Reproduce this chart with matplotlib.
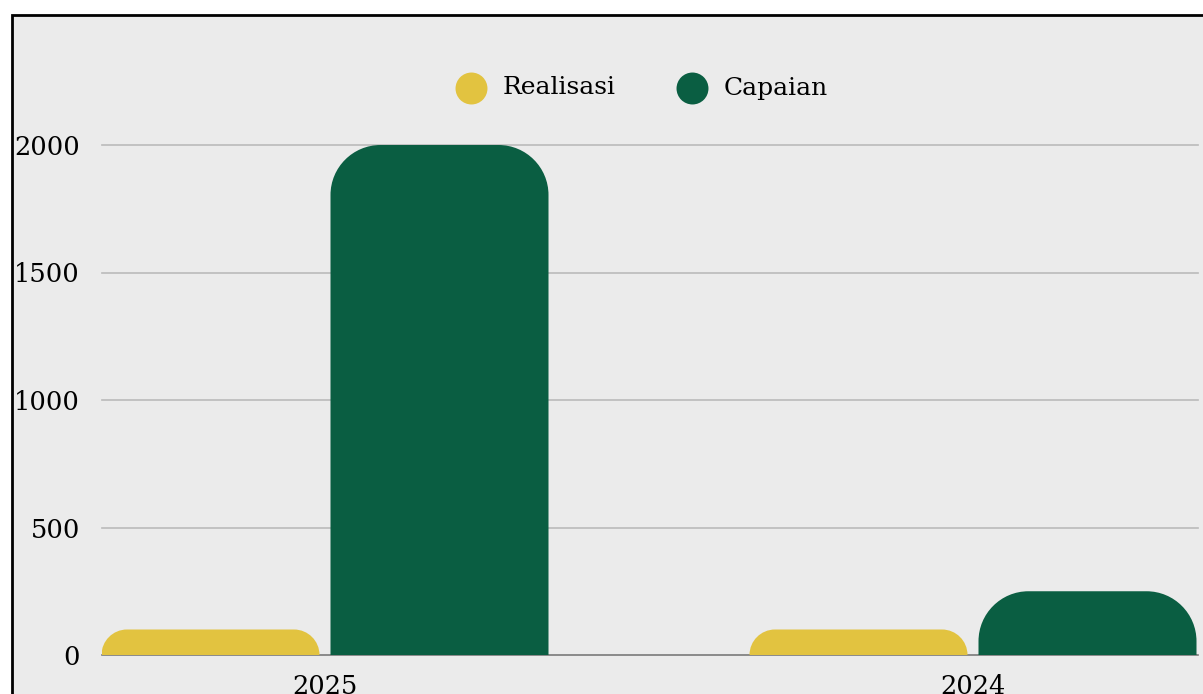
import matplotlib
matplotlib.use('Agg')

import numpy as np
import matplotlib.pyplot as plt
from matplotlib.path import Path
from matplotlib.patches import PathPatch, Rectangle
from matplotlib.lines import Line2D

# data
tahun = ['2025', '2024']
realisasi = [100, 100]
capaian = [2000, 250]
yticks = [0, 500, 1000, 1500, 2000]
seri = ['Realisasi', 'Capaian']

warna_realisasi = '#e2c340'
warna_capaian = '#0a5e42'
latar = '#ebebeb'

W, H, DPI = 1203, 694, 100
fig = plt.figure(figsize=(W / DPI, H / DPI), dpi=DPI)
fig.patch.set_facecolor('white')

# panel abu-abu dengan bingkai hitam (terpotong di kanan & bawah)
fig.patches.append(Rectangle((11.5 / W, -0.1), 1.2, 1 - 14.5 / H + 0.1,
                             transform=fig.transFigure, facecolor=latar,
                             edgecolor='black', linewidth=2.0, zorder=-5))

ax_l, ax_r, ax_b, ax_t = 102, 1198, 655, 40
ax = fig.add_axes([ax_l / W, 1 - ax_b / H, (ax_r - ax_l) / W, (ax_b - ax_t) / H])
ax.set_facecolor('none')

px_per_cat = 648.0
xmin = -(325 - ax_l) / px_per_cat
xmax = xmin + (ax_r - ax_l) / px_per_cat
ymax = 2000 * (ax_b - ax_t) / (ax_b - 145)
ax.set_xlim(xmin, xmax)
ax.set_ylim(0, ymax)

px_x = (ax_r - ax_l) / (xmax - xmin)
px_y = (ax_b - ax_t) / ymax

lebar = 218 / px_per_cat
geser = (218 + 11) / 2 / px_per_cat
K = 0.5523


def bar_bulat(x_tengah, tinggi, warna, r_px=50):
    # batang dengan sudut atas membulat
    r = min(r_px, tinggi * px_y)
    rx, ry = r / px_x, r / px_y
    x0, x1 = x_tengah - lebar / 2, x_tengah + lebar / 2
    y0, y1 = 0, tinggi
    verts = [(x0, y0), (x0, y1 - ry),
             (x0, y1 - ry + K * ry), (x0 + rx - K * rx, y1), (x0 + rx, y1),
             (x1 - rx, y1),
             (x1 - rx + K * rx, y1), (x1, y1 - ry + K * ry), (x1, y1 - ry),
             (x1, y0), (x0, y0)]
    codes = [Path.MOVETO, Path.LINETO,
             Path.CURVE4, Path.CURVE4, Path.CURVE4,
             Path.LINETO,
             Path.CURVE4, Path.CURVE4, Path.CURVE4,
             Path.LINETO, Path.CLOSEPOLY]
    ax.add_patch(PathPatch(Path(verts, codes), facecolor=warna,
                           edgecolor='none', zorder=3))


x = np.arange(len(tahun))
for i in range(len(tahun)):
    bar_bulat(x[i] - geser, realisasi[i], warna_realisasi)
    bar_bulat(x[i] + geser, capaian[i], warna_capaian)

for v in yticks[1:]:
    ax.axhline(v, color='#bababa', linewidth=1.2, zorder=1, clip_on=False)
ax.axhline(0, color='#7a7a7a', linewidth=1.2, zorder=2, clip_on=False)

for s in ax.spines.values():
    s.set_visible(False)

font = 'DejaVu Serif'
ax.set_yticks(yticks)
ax.set_yticklabels([str(v) for v in yticks], fontfamily=font, fontsize=18.5)
ax.set_xticks(x)
ax.set_xticklabels(tahun, fontfamily=font, fontsize=18.5)
ax.tick_params(axis='y', length=0, pad=16)
ax.tick_params(axis='x', length=0, pad=14)

# legenda manual di atas
leg_y = 1 - 88 / H
for nama, warna, cx in zip(seri, [warna_realisasi, warna_capaian], [471, 692]):
    fig.add_artist(Line2D([cx / W], [leg_y], transform=fig.transFigure,
                          linestyle='none', marker='o', markersize=23,
                          markerfacecolor=warna, markeredgecolor='none'))
    fig.text((cx + 32) / W, leg_y, nama, fontfamily=font, fontsize=18,
             ha='left', va='center')

fig.savefig('out.png', dpi=DPI)
